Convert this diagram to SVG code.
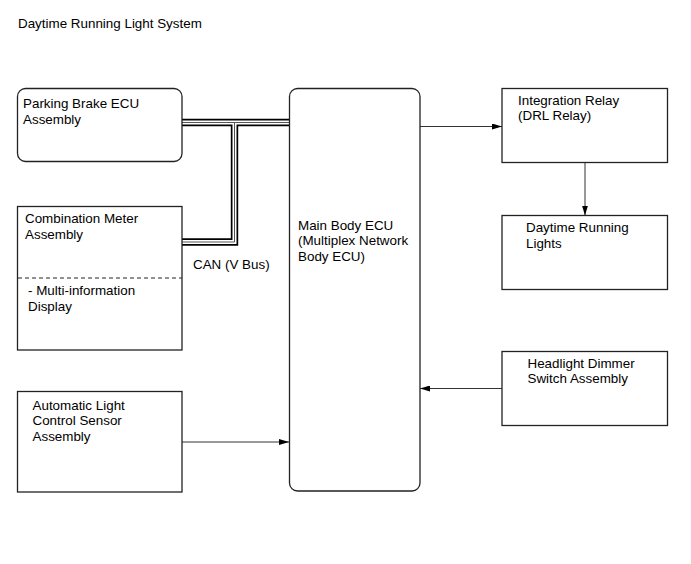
<svg xmlns="http://www.w3.org/2000/svg" width="691" height="564" viewBox="0 0 691 564">
<defs>
<style>
text{font-family:"Liberation Sans",Arial,sans-serif;font-size:13.4px;fill:#000}
.box{fill:#fff;stroke:#222;stroke-width:1.3}
.dash{stroke:#222;stroke-width:1;stroke-dasharray:4,3;fill:none}
.conn{stroke:#333;stroke-width:1;fill:none}
.busO{stroke:#000;stroke-width:7.4;fill:none;stroke-linejoin:miter}
.busW{stroke:#fff;stroke-width:4;fill:none;stroke-linejoin:miter}
.busC{stroke:#555;stroke-width:1;fill:none;stroke-linejoin:miter}
</style>
<marker id="ah" viewBox="0 0 10 6" refX="10" refY="3" markerWidth="10" markerHeight="6" markerUnits="userSpaceOnUse" orient="auto">
<path d="M0,0 L10,3 L0,6 Z" fill="#000"/>
</marker>
</defs>
<rect width="691" height="564" fill="#fff"/>
<text x="18" y="28">Daytime Running Light System</text>

<g id="connectors">
<g id="can-bus">
<path class="busO" d="M182,122.5 H289 M234.5,122.5 V242 H182"/>
<path class="busW" d="M182,122.5 H289 M234.5,122.5 V242 H182"/>
<path class="busC" d="M182,122.5 H289 M234.5,122.5 V242 H182"/>
</g>
<text x="193" y="268.5">CAN (V Bus)</text>
<path class="conn" d="M420,126.5 H502" marker-end="url(#ah)"/>
<path class="conn" d="M585,162.5 V215.5" marker-end="url(#ah)"/>
<path class="conn" d="M502,388.5 H420" marker-end="url(#ah)"/>
<path class="conn" d="M182,442 H289" marker-end="url(#ah)"/>
</g>

<g id="parking-brake">
<rect class="box" x="17.5" y="88.5" width="164.5" height="73" rx="8"/>
<text x="23" y="108">Parking Brake ECU</text>
<text x="23" y="123.5">Assembly</text>
</g>

<g id="combination-meter">
<rect class="box" x="17.5" y="206.5" width="164.5" height="143.5"/>
<line class="dash" x1="18" y1="278" x2="182" y2="278"/>
<text x="25" y="222.5">Combination Meter</text>
<text x="25" y="238.5">Assembly</text>
<text x="28" y="295">- Multi-information</text>
<text x="28" y="311">Display</text>
</g>

<g id="auto-light-sensor">
<rect class="box" x="17.5" y="391.5" width="164.5" height="100.5"/>
<text x="32.5" y="409.5">Automatic Light</text>
<text x="32.5" y="425">Control Sensor</text>
<text x="32.5" y="440.5">Assembly</text>
</g>

<g id="main-body-ecu">
<rect class="box" x="289.5" y="88.5" width="130.5" height="402.5" rx="8"/>
<text x="298" y="229.5">Main Body ECU</text>
<text x="298" y="245">(Multiplex Network</text>
<text x="298" y="260.5">Body ECU)</text>
</g>

<g id="integration-relay">
<rect class="box" x="502" y="88.5" width="165.5" height="74"/>
<text x="518" y="104.5">Integration Relay</text>
<text x="518" y="120">(DRL Relay)</text>
</g>

<g id="drl">
<rect class="box" x="502" y="215.5" width="165.5" height="74"/>
<text x="526" y="232">Daytime Running</text>
<text x="526" y="247.5">Lights</text>
</g>

<g id="headlight-dimmer">
<rect class="box" x="502" y="351.5" width="165.5" height="74"/>
<text x="527.5" y="367.5">Headlight Dimmer</text>
<text x="527.5" y="383">Switch Assembly</text>
</g>
</svg>
